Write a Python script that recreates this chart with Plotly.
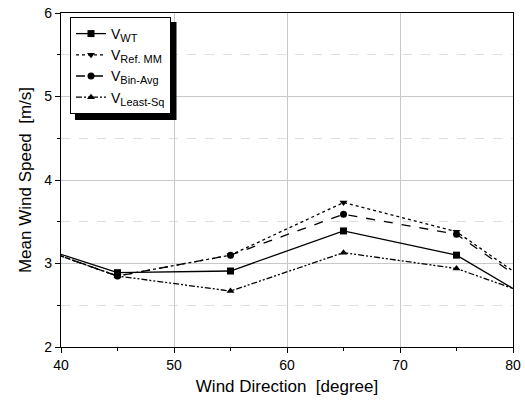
import plotly.graph_objects as go

direction = [35, 45, 55, 65, 75, 85]
v_wt = [3.33, 2.89, 2.91, 3.39, 3.10, 2.30]
v_ref_mm = [3.33, 2.85, 3.10, 3.73, 3.38, 2.44]
v_bin_avg = [3.33, 2.85, 3.10, 3.59, 3.35, 2.41]
v_least_sq = [3.33, 2.85, 2.67, 3.13, 2.94, 2.46]
names = ["WT", "Ref. MM", "Bin-Avg", "Least-Sq"]

styles = [("solid", "square"), ("dot", "triangle-down"), ("dash", "circle"),
          ("6px,2px,2px,2px,2px,2px", "triangle-up")]

fig = go.Figure()
for name, vals, (dash, sym) in zip(names, [v_wt, v_ref_mm, v_bin_avg, v_least_sq], styles):
    fig.add_trace(go.Scatter(
        x=direction, y=vals,
        name=f"V<sub><span style='font-size:11px'>{name}</span></sub>",
        mode="lines+markers",
        line=dict(color="black", width=1.3, dash=dash),
        marker=dict(symbol=sym, size=7, color="black"),
        cliponaxis=True,
    ))

W, H = 525, 400
ml, mr, mt, mb = 61, 12, 12.5, 53.3
pw, ph = W - ml - mr, H - mt - mb

def px2paper(x, y):
    return (x - ml) / pw, 1 - (y - mt) / ph

lx0, ly0 = px2paper(70, 16.5)
sx0, sy0 = px2paper(75, 21.5)
sx1, sy1 = px2paper(176.5, 119.5)

fig.add_shape(type="rect", xref="paper", yref="paper", x0=sx0, y0=sy1, x1=sx1, y1=sy0,
              fillcolor="black", line=dict(width=0), layer="above")

font = "Arial, Liberation Sans, sans-serif"
fig.update_layout(
    width=W, height=H,
    margin=dict(l=ml, r=mr, t=mt, b=mb, autoexpand=False),
    paper_bgcolor="white", plot_bgcolor="white",
    font=dict(family=font, color="black", size=14),
    showlegend=True,
    legend=dict(x=lx0, y=ly0, xanchor="left", yanchor="top",
                bgcolor="white", bordercolor="black", borderwidth=1,
                font=dict(size=14, family=font), itemwidth=30,
                tracegroupgap=0),
    xaxis=dict(range=[40, 80], tickvals=[40, 50, 60, 70, 80], automargin=False,
               showline=True, linecolor="black", linewidth=1.3, mirror=True,
               ticks="outside", ticklen=5, tickcolor="black",
               showgrid=True, gridcolor="#c8c8c8", gridwidth=1,
               zeroline=False,
               minor=dict(dtick=5, ticks="outside", ticklen=3, tickcolor="black", showgrid=False),
               title=dict(text="Wind Direction  [degree]", font=dict(size=17), standoff=8),
               tickfont=dict(size=14)),
    yaxis=dict(range=[2, 6], tickvals=[2, 3, 4, 5, 6], automargin=False,
               showline=True, linecolor="black", linewidth=1.3, mirror=True,
               ticks="outside", ticklen=5, tickcolor="black",
               showgrid=True, gridcolor="#c8c8c8", gridwidth=1,
               zeroline=False,
               minor=dict(dtick=0.5, ticks="outside", ticklen=3, tickcolor="black",
                          showgrid=True, gridcolor="#dedede", griddash="dash", gridwidth=1),
               title=dict(text="Mean Wind Speed  [m/s]", font=dict(size=17), standoff=8),
               tickfont=dict(size=14)),
)

fig.write_html("out.html", config={"displayModeBar": False},
               post_script="document.body.style.margin='0';document.body.style.overflow='hidden';")
